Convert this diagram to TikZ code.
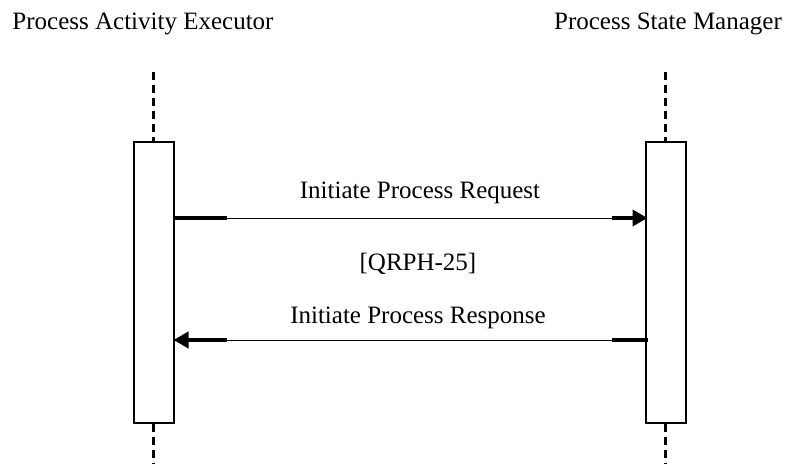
\documentclass[tikz,border=0pt]{standalone}
\usepackage{fontspec}
\setmainfont{Liberation Serif}
\usetikzlibrary{arrows.meta,calc}
\begin{document}
\begin{tikzpicture}[x=1pt,y=-1pt,
  lbl/.style={anchor=base,inner sep=0pt,font=\fontsize{25}{30}\selectfont},
  actbox/.style={draw,line width=2pt,minimum width=40pt,minimum height=281pt,inner sep=0pt,fill=white},
  life/.style={line width=3pt,dash pattern=on 8pt off 5pt},
  msg/.style={line width=1pt},
  thk/.style={line width=4pt},
  tip/.style={-{Triangle[length=15pt,width=16pt]}}]
\useasboundingbox (0,0) rectangle (785,464);
% lifelines
\coordinate (Ltop) at (153.5,72);
\coordinate (Lbot) at (153.5,464);
\coordinate (Rtop) at (665.5,72);
\coordinate (Rbot) at (665.5,464);
\node[actbox] (L) at (153.5,282) {};
\node[actbox] (R) at (665.5,282) {};
\draw[life] (Ltop) -- (L.north);
\draw[life] (L.south) -- (Lbot);
\draw[life] (Rtop) -- (R.north);
\draw[life] (R.south) -- (Rbot);
% titles
\node[lbl] (tL) at (143,29) {Process Activity Executor};
\node[lbl] (tR) at (668,29) {Process State Manager};
% message 1
\coordinate (m1a) at (L.east |- 0,218);
\coordinate (m1b) at (R.west |- 0,218);
\draw[msg] (m1a) -- (m1b);
\draw[thk] ($(m1a)+(-2,0)$) -- ++(54,0);
\draw[thk,tip] ($(m1b)+(-33,0)$) -- ($(m1b)+(3,0)$);
\node[lbl] (l1) at (420,198) {Initiate Process Request};
\node[lbl] (l2) at (418,270) {[QRPH-25]};
\node[lbl] (l3) at (418,323) {Initiate Process Response};
% message 2
\coordinate (m2a) at (R.west |- 0,340);
\coordinate (m2b) at (L.east |- 0,340);
\draw[msg] (m2a) -- (m2b);
\draw[thk] ($(m2a)+(3,0)$) -- ++(-36,0);
\draw[thk,tip] ($(m2b)+(52,0)$) -- ($(m2b)+(-1,0)$);
\end{tikzpicture}
\end{document}
